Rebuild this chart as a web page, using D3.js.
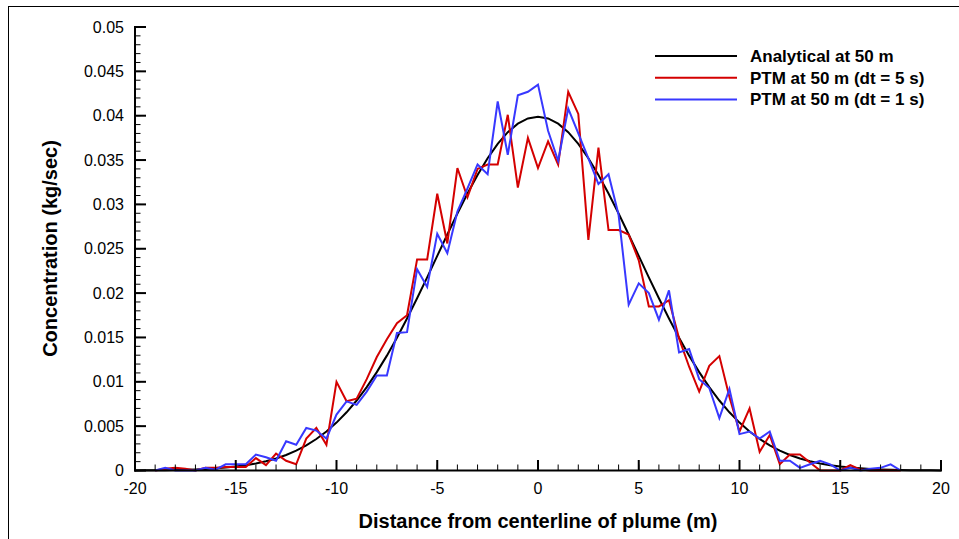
<!DOCTYPE html>
<html><head><meta charset="utf-8">
<script src="https://cdn.jsdelivr.net/npm/d3@7"></script>
<style>
html,body{margin:0;padding:0;background:#fff;}
svg{display:block;font-family:"Liberation Sans",Arial,Helvetica,sans-serif;}
</style></head>
<body>
<svg id="chart" width="959" height="539"></svg>
<script>
// ---- data ----
const distance = [-19,-18.5,-18,-17.5,-17,-16.5,-16,-15.5,-15,-14.5,-14,-13.5,-13,-12.5,-12,-11.5,-11,-10.5,-10,-9.5,-9,-8.5,-8,-7.5,-7,-6.5,-6,-5.5,-5,-4.5,-4,-3.5,-3,-2.5,-2,-1.5,-1,-0.5,0,0.5,1,1.5,2,2.5,3,3.5,4,4.5,5,5.5,6,6.5,7,7.5,8,8.5,9,9.5,10,10.5,11,11.5,12,12.5,13,13.5,14,14.5,15,15.5,16,16.5,17,17.5,18];

const ptmDt5 = [0,0.0002,0.0003,0.0002,0,0.0003,0.0003,0.0004,0.0004,0.0004,0.0014,0.0006,0.0019,0.0011,0.0007,0.0036,0.0048,0.0029,0.0100,0.0078,0.0081,0.0103,0.0128,0.0148,0.0166,0.0175,0.0238,0.0238,0.0312,0.0256,0.0341,0.0308,0.0340,0.0345,0.0345,0.0401,0.0319,0.0375,0.0341,0.0371,0.0345,0.0427,0.0402,0.0260,0.0364,0.0271,0.0271,0.0266,0.0237,0.0185,0.0185,0.0192,0.0149,0.0117,0.0089,0.0118,0.0129,0.0083,0.0044,0.0070,0.0021,0.0040,0.0007,0.0018,0.0018,0.0009,0,0,0,0.0006,0.0001,0,0,0,0];

const ptmDt1 = [0,0.0003,0,0,0,0.0003,0.0001,0.0007,0.0007,0.0007,0.0018,0.0015,0.0011,0.0033,0.0029,0.0048,0.0045,0.0036,0.0063,0.0078,0.0074,0.0089,0.0107,0.0107,0.0155,0.0156,0.0227,0.0207,0.0267,0.0245,0.0292,0.0318,0.0345,0.0334,0.0416,0.0356,0.0423,0.0427,0.0435,0.0383,0.0349,0.0408,0.0380,0.0352,0.0323,0.0334,0.0288,0.0187,0.0211,0.0200,0.0170,0.0203,0.0133,0.0137,0.0103,0.0093,0.0059,0.0092,0.0041,0.0044,0.0036,0.0044,0.0011,0.0011,0.0003,0.0007,0.0011,0.0007,0,0.0003,0,0.0002,0.0003,0.0007,0];

const analyticalX = [-20,-19.5,-19,-18.5,-18,-17.5,-17,-16.5,-16,-15.5,-15,-14.5,-14,-13.5,-13,-12.5,-12,-11.5,-11,-10.5,-10,-9.5,-9,-8.5,-8,-7.5,-7,-6.5,-6,-5.5,-5,-4.5,-4,-3.5,-3,-2.5,-2,-1.5,-1,-0.5,0,0.5,1,1.5,2,2.5,3,3.5,4,4.5,5,5.5,6,6.5,7,7.5,8,8.5,9,9.5,10,10.5,11,11.5,12,12.5,13,13.5,14,14.5,15,15.5,16,16.5,17,17.5,18,18.5,19,19.5,20];
const analytical = [0.00001,0.00002,0.00003,0.00004,0.00006,0.00009,0.00012,0.00017,0.00024,0.00033,0.00044,0.00060,0.00079,0.00104,0.00136,0.00175,0.00224,0.00283,0.00355,0.00440,0.00540,0.00656,0.00789,0.00940,0.01109,0.01295,0.01497,0.01714,0.01942,0.02178,0.02420,0.02661,0.02897,0.03122,0.03332,0.03520,0.03682,0.03814,0.03910,0.03969,0.03989,0.03969,0.03910,0.03814,0.03682,0.03520,0.03332,0.03122,0.02897,0.02661,0.02420,0.02178,0.01942,0.01714,0.01497,0.01295,0.01109,0.00940,0.00789,0.00656,0.00540,0.00440,0.00355,0.00283,0.00224,0.00175,0.00136,0.00104,0.00079,0.00060,0.00044,0.00033,0.00024,0.00017,0.00012,0.00009,0.00006,0.00004,0.00003,0.00002,0.00001];

const xTicks = [-20,-15,-10,-5,0,5,10,15,20];
const yTicks = [0,0.005,0.01,0.015,0.02,0.025,0.03,0.035,0.04,0.045,0.05];
const yTickLabels = ["0","0.005","0.01","0.015","0.02","0.025","0.03","0.035","0.04","0.045","0.05"];
const seriesNames = ["Analytical at 50 m","PTM at 50 m (dt = 5 s)","PTM at 50 m (dt = 1 s)"];
const seriesColors = ["#000000","#d40000","#3838ff"];
const xTitle = "Distance from centerline of plume (m)";
const yTitle = "Concentration (kg/sec)";

// ---- drawing ----
const svg = d3.select("#chart");
const X0 = 135, X1 = 941, Y0 = 470.5, Y1 = 27;
const x = d3.scaleLinear().domain([-20,20]).range([X0,X1]);
const y = d3.scaleLinear().domain([0,0.05]).range([Y0,Y1]);

// frame
svg.append("rect").attr("x",8.5).attr("y",6.5).attr("width",1000).attr("height",1000)
  .attr("fill","none").attr("stroke","#000").attr("stroke-width",1);

// series
const line = d3.line().x(d=>x(d[0])).y(d=>y(d[1]));
const series = [
  d3.zip(analyticalX, analytical),
  d3.zip(distance, ptmDt5),
  d3.zip(distance, ptmDt1)
];
const plot = svg.append("g");
series.forEach((s,i)=>{
  plot.append("path").datum(s).attr("d",line).attr("fill","none")
    .attr("stroke",seriesColors[i]).attr("stroke-width",2).attr("stroke-linejoin","miter");
});

// x axis
const xMinor = d3.range(-20,20.01,1);
const gx = svg.append("g");
gx.selectAll("line.minor").data(xMinor).join("line")
  .attr("x1",d=>x(d)).attr("x2",d=>x(d)).attr("y1",Y0).attr("y2",Y0-6)
  .attr("stroke","#000").attr("stroke-width",1);
gx.selectAll("line.major").data(xTicks).join("line")
  .attr("x1",d=>x(d)).attr("x2",d=>x(d)).attr("y1",Y0).attr("y2",Y0-10.5)
  .attr("stroke","#000").attr("stroke-width",2);
gx.append("line").attr("x1",X0-1).attr("x2",X1+1).attr("y1",Y0).attr("y2",Y0)
  .attr("stroke","#000").attr("stroke-width",2);
gx.selectAll("text").data(xTicks).join("text")
  .attr("x",d=>x(d)).attr("y",Y0+23).attr("text-anchor","middle")
  .attr("font-size",16).text(d=>d);

// y axis
const yMinor = d3.range(0,0.05001,0.001);
const gy = svg.append("g");
gy.selectAll("line.minor").data(yMinor).join("line")
  .attr("x1",X0).attr("x2",X0+5.5).attr("y1",d=>y(d)).attr("y2",d=>y(d))
  .attr("stroke","#000").attr("stroke-width",1);
gy.selectAll("line.major").data(yTicks).join("line")
  .attr("x1",X0).attr("x2",X0+11).attr("y1",d=>y(d)).attr("y2",d=>y(d))
  .attr("stroke","#000").attr("stroke-width",2);
gy.append("line").attr("x1",X0).attr("x2",X0).attr("y1",Y0+1).attr("y2",Y1-1)
  .attr("stroke","#000").attr("stroke-width",2);
gy.selectAll("text").data(yTicks).join("text")
  .attr("x",X0-11).attr("y",d=>y(d)+5.5).attr("text-anchor","end")
  .attr("font-size",16).text((d,i)=>yTickLabels[i]);

// titles
svg.append("text").attr("x",538).attr("y",527.5).attr("text-anchor","middle")
  .attr("font-size",20).attr("font-weight","bold").text(xTitle);
svg.append("text").attr("transform","translate(57,248.5) rotate(-90)")
  .attr("text-anchor","middle").attr("font-size",20).attr("font-weight","bold").text(yTitle);

// legend
const leg = svg.append("g");
seriesNames.forEach((n,i)=>{
  const ly = 56 + i*21.7;
  leg.append("line").attr("x1",655).attr("x2",737).attr("y1",ly).attr("y2",ly)
    .attr("stroke",seriesColors[i]).attr("stroke-width",2);
  leg.append("text").attr("x",750).attr("y",ly+6).attr("font-size",17)
    .attr("font-weight","bold").text(n);
});
</script>
</body></html>
